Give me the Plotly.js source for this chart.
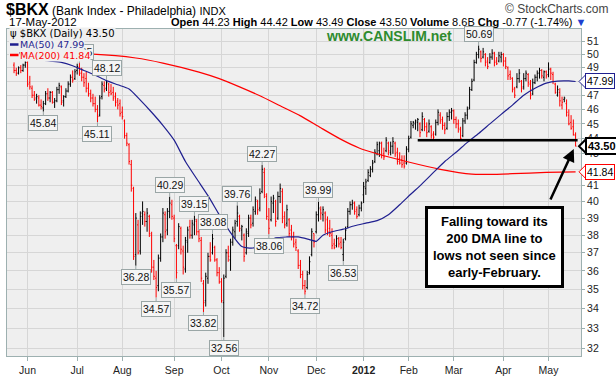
<!DOCTYPE html>
<html><head><meta charset="utf-8">
<script src="https://cdn.plot.ly/plotly-3.0.1.min.js"></script>
<style>html,body{margin:0;padding:0;background:#fff;}#chart{width:616px;height:379px;}</style>
</head><body><div id="chart"></div>
<script>
// ---- data (trading-day index; 0 = 1-Jun-2011) ----
const firstIdx = -6;
const opens = [
49.2,48.8,48.6,49.0,48.8,49.2,49.4,47.9,47.5,47.0,
46.8,46.8,46.3,46.1,46.4,47.1,46.8,47.2,46.5,46.6,
47.4,47.6,46.6,46.9,47.3,47.8,48.3,48.2,48.8,49.0,
48.6,48.3,48.2,47.5,47.1,46.8,46.4,46.0,45.6,46.9,
47.7,47.5,47.8,47.3,47.2,46.9,46.6,46.4,45.8,45.2,
44.2,43.6,42.3,40.8,36.9,38.6,37.1,39.3,39.2,38.8,
39.1,38.0,36.2,35.6,35.2,36.7,37.9,39.2,38.3,39.4,
39.8,39.0,37.4,37.4,38.4,37.1,36.1,37.6,38.5,38.0,
38.6,38.8,38.2,37.7,35.3,34.4,35.6,36.8,37.0,37.3,
36.6,35.9,35.4,34.3,35.7,37.0,36.6,37.6,38.2,38.8,
39.1,38.3,38.0,37.0,38.1,39.0,38.7,39.4,40.0,39.6,
40.6,41.8,40.3,38.9,38.9,39.9,40.0,39.0,40.3,40.6,
39.1,38.7,38.9,38.3,37.9,37.6,37.1,36.3,35.8,35.2,
35.1,35.9,36.9,38.1,38.2,39.2,39.5,39.2,39.3,38.9,
38.4,38.0,37.5,37.4,37.8,37.6,36.9,37.8,38.5,39.4,
39.8,39.9,39.5,39.2,39.6,40.4,40.8,41.3,41.6,42.0,
42.5,43.0,43.2,43.7,43.0,43.2,43.7,43.1,43.5,43.7,
43.1,42.7,42.6,42.4,42.4,43.3,44.1,44.9,45.0,45.1,
45.0,44.6,45.3,44.8,44.5,44.8,44.3,44.3,45.1,45.6,
45.3,44.9,44.7,45.5,45.8,45.9,45.3,45.0,44.6,44.2,
45.2,45.6,46.1,47.4,48.1,49.4,50.0,50.2,49.8,50.0,
49.5,49.4,49.8,50.1,49.5,49.5,49.8,50.0,49.5,49.0,
48.5,48.2,47.5,47.6,48.2,48.0,47.6,48.2,48.5,47.8,
47.1,47.9,48.3,48.6,48.8,48.3,48.7,48.5,48.9,48.5,
47.8,47.0,47.2,46.3,46.7,46.4,45.6,45.1,44.8,44.23];
const highs = [
49.4,49.0,49.1,49.2,49.3,49.6,49.5,48.4,47.7,47.3,
47.1,47.0,46.7,46.6,47.3,47.5,47.3,47.3,46.8,47.6,
47.9,47.7,47.0,47.5,48.0,48.5,48.8,48.9,49.3,49.35,
49.0,48.6,48.7,47.9,47.4,47.1,46.9,46.3,47.0,48.0,
48.0,48.12,47.9,47.8,47.6,47.2,46.8,46.7,46.2,45.3,
44.4,43.7,42.6,40.9,39.3,38.9,39.4,40.0,39.4,39.6,
39.2,38.2,36.6,36.0,36.9,38.1,39.6,39.4,39.6,40.29,
40.1,39.2,37.5,38.7,38.5,37.4,37.9,38.5,38.9,38.9,
39.15,38.95,38.4,37.9,35.5,35.9,37.0,37.6,38.08,37.4,
36.7,36.2,35.6,35.8,37.2,37.4,37.8,38.5,38.9,39.76,
39.2,38.6,38.1,38.4,39.2,39.2,39.7,40.3,40.1,40.8,
42.27,42.1,40.5,39.6,40.3,40.4,40.1,40.6,41.1,40.8,
39.4,39.8,39.0,38.6,38.2,37.8,37.2,36.6,36.0,35.5,
36.0,36.8,38.4,38.1,39.4,39.99,39.7,39.7,39.4,39.1,
38.9,38.4,37.8,38.0,37.9,37.9,37.8,38.5,39.6,40.0,
40.1,40.0,39.7,39.8,40.0,41.2,41.4,42.0,42.2,42.6,
43.3,43.8,43.8,43.8,43.4,44.1,43.8,43.8,44.1,43.8,
43.4,43.1,42.9,42.9,43.5,44.2,45.2,45.2,45.3,45.4,
45.1,45.8,45.4,45.1,45.3,44.9,44.5,45.3,46.0,45.8,
45.5,45.1,45.8,46.0,46.1,46.0,45.5,45.3,44.8,45.4,
45.8,46.2,47.6,48.2,49.6,50.2,50.69,50.3,50.5,50.1,
49.8,50.1,50.4,50.2,49.8,50.2,50.2,50.1,49.8,49.1,
48.8,48.3,47.6,48.6,48.9,48.1,48.6,48.8,48.6,48.1,
48.2,48.5,48.8,49.0,48.9,48.8,48.8,49.4,49.0,48.7,
47.9,47.7,47.5,46.9,46.9,46.7,46.0,45.6,45.3,44.42];
const lows = [
48.6,48.4,48.5,48.6,48.7,49.0,47.6,47.4,46.8,46.6,
46.4,46.2,46.0,45.84,46.3,46.6,46.5,46.4,46.1,46.5,
47.1,46.3,46.2,46.8,47.2,47.6,47.9,48.1,48.5,48.4,
48.0,47.6,47.2,46.9,46.5,46.2,45.8,45.11,45.5,46.7,
47.2,47.3,46.9,47.0,46.6,46.2,46.0,45.5,45.3,44.0,
43.5,42.3,40.6,36.6,36.28,36.9,36.9,38.6,38.5,38.2,
37.9,35.9,35.5,34.57,34.9,36.5,37.6,37.8,38.0,39.0,
38.9,37.6,35.57,37.2,36.9,35.8,35.9,37.0,37.8,37.8,
38.0,38.0,37.6,35.4,33.82,34.1,35.3,36.5,36.9,36.5,
35.7,35.3,34.3,32.56,35.6,36.5,36.0,37.4,37.8,38.5,
38.2,37.7,36.5,36.9,37.9,38.4,38.5,39.2,39.2,39.4,
40.5,40.2,38.9,38.06,38.8,39.3,38.5,38.9,39.9,38.7,
38.4,38.5,37.9,37.7,37.3,37.1,36.1,35.6,35.0,34.72,
35.0,35.8,36.8,37.3,38.1,38.8,38.9,38.8,38.1,38.0,
37.9,37.2,37.2,37.3,37.3,37.2,36.53,37.7,38.4,39.2,
39.5,39.2,38.96,39.1,39.4,39.9,40.4,41.2,41.5,41.8,
42.4,42.9,42.8,42.7,42.6,43.1,42.9,42.9,43.0,42.8,
42.3,42.3,42.1,42.05,42.3,43.1,44.0,44.7,44.6,44.5,
44.1,44.5,44.5,44.1,44.4,44.0,43.95,44.2,44.9,45.0,
44.6,44.3,44.6,45.2,45.3,45.0,44.7,44.4,43.85,44.1,
45.0,45.3,46.0,47.3,48.0,49.3,49.7,49.4,49.7,49.1,
48.9,49.3,49.6,49.1,49.2,49.4,49.4,49.1,48.9,48.1,
48.1,47.2,46.8,47.5,47.9,47.2,47.4,48.0,47.6,46.7,
47.0,47.8,48.0,48.2,48.2,48.0,48.2,48.3,48.1,47.8,
47.1,46.9,46.2,46.0,46.5,45.5,44.9,44.6,44.2,43.49];
const closes = [
48.8,48.6,49.0,48.8,49.2,49.4,47.8,47.6,47.0,46.7,
46.9,46.3,46.2,46.4,47.1,46.8,47.2,46.5,46.6,47.4,
47.7,46.5,46.9,47.3,47.8,48.3,48.1,48.7,49.1,48.6,
48.3,47.9,47.5,47.1,46.8,46.4,46.0,45.5,46.8,47.8,
47.4,47.9,47.2,47.1,46.8,46.5,46.3,45.7,45.5,44.2,
43.7,42.5,41.0,36.8,39.0,37.0,39.1,39.4,38.8,39.3,
38.1,36.2,35.7,35.1,36.7,37.9,39.3,38.2,39.4,39.9,
39.1,37.8,35.9,38.5,37.2,36.2,37.7,38.3,38.0,38.7,
38.9,38.2,37.8,35.6,34.3,35.7,36.8,36.6,37.8,36.6,
35.9,35.4,34.4,35.6,37.0,36.8,37.6,38.3,38.7,39.3,
38.4,38.5,36.8,38.2,39.0,38.6,39.5,40.1,39.5,40.5,
42.0,40.4,39.1,38.4,40.0,40.2,38.8,40.3,40.8,39.0,
38.6,39.5,38.1,37.9,37.5,37.3,36.3,35.8,35.2,34.9,
35.8,36.5,38.2,37.6,39.2,39.6,39.3,39.5,38.3,38.2,
38.1,37.4,37.3,37.8,37.5,37.3,37.6,38.3,39.4,39.8,
39.9,39.4,39.1,39.6,39.9,40.9,41.2,41.8,42.0,42.4,
43.1,43.6,43.7,42.9,42.8,43.9,43.2,43.5,43.8,43.0,
42.5,42.4,42.3,42.2,43.3,44.0,45.0,45.1,45.2,45.3,
44.4,45.5,44.8,44.4,45.0,44.2,44.1,45.1,45.8,45.2,
44.9,44.6,45.5,45.8,45.9,45.3,45.0,44.7,44.0,45.2,
45.6,46.0,47.4,48.0,49.4,50.0,50.4,49.7,50.2,49.4,
49.1,49.8,50.1,49.4,49.3,49.9,50.0,49.5,49.1,48.4,
48.3,47.4,47.0,48.2,48.6,47.5,48.2,48.6,47.9,47.0,
47.9,48.3,48.6,48.8,48.4,48.7,48.4,48.9,48.6,48.0,
47.2,47.4,46.6,46.5,46.8,45.8,45.0,44.7,44.27,43.50];

const monthTickIdx  = [0,22,42,65,86,107,128,149,169,189,211,231];
const monthTickText = ['Jun','Jul','Aug','Sep','Oct','Nov','Dec','<b>2012</b>','Feb','Mar','Apr','May'];
const yearStartIdx = 149;

const ma50Idx = [-6,0,5,10,15,20,25,30,35,40,45,50,55,60,65,70,75,80,85,90,95,100,105,110,115,120,125,128,131,135,140,145,150,155,160,165,170,175,180,185,190,195,200,205,210,215,220,225,230,235,240,243];
const ma50Val = [50.3,49.9,49.6,49.5,49.4,49.15,48.8,48.45,48.05,47.75,47.45,46.65,45.8,44.9,43.9,42.5,41.4,40.35,39.2,38.15,37.35,37.27,37.55,37.85,37.9,37.9,37.75,37.65,38.0,38.2,38.35,38.55,38.7,38.85,39.2,39.8,40.45,41.1,41.8,42.5,43.1,43.75,44.35,45.0,45.65,46.3,47.0,47.5,47.87,48.02,48.03,47.99];
const ma200Idx = [-6,10,29,48,60,76,85,94,103,112,121,130,139,147,155,168,183,197,205,215,230,243];
const ma200Val = [50.1,50.06,50.02,49.73,49.35,48.68,48.2,47.6,46.96,46.25,45.55,44.73,43.95,43.38,43.0,42.5,42.0,41.69,41.68,41.72,41.8,41.84];

const priceTicks = [32,33,34,35,36,37,38,39,40,41,42,43,44,45,46,47,48,49,50,51];
const highLabelIdx = [23,35,63,74,82,93,104,129,200];
const lowLabelIdx  = [7,31,48,57,66,78,87,107,123,140];
const supportLevel = 43.9;
const supportStartIdx = 173;
const volumeText = '8.6B';
const noteLines = ['Falling toward its','200 DMA line to','lows not seen since','early-February.'];

// ---- geometry helpers (layout only) ----
const W = 616, H = 379, ML = 7, MR = 35, MT = 29, MB = 23;
const PW = W - ML - MR, PH = H - MT - MB;
const yLo = 31.633, yHi = 51.97;
const r0 = Math.log10(yLo), r1 = Math.log10(yHi);
const yPaper = v => (Math.log10(v) - r0) / (r1 - r0);
const pxX = px => (px - ML) / PW;
const pxY = py => (H - MB - py) / PH;
const SANS = 'Liberation Sans, Arial, sans-serif';

// ---- traces ----
const N = closes.length;
const xIdx = closes.map((_, k) => firstIdx + k);
const up = {x:[],o:[],h:[],l:[],c:[]}, dn = {x:[],o:[],h:[],l:[],c:[]};
for (let k = 0; k < N; k++) {
  const prev = k > 0 ? closes[k-1] : opens[k];
  const g = closes[k] >= prev ? up : dn;
  g.x.push(xIdx[k]); g.o.push(opens[k]); g.h.push(highs[k]); g.l.push(lows[k]); g.c.push(closes[k]);
}
function ohlc(g, color) {
  return {type:'ohlc', x:g.x, open:g.o, high:g.h, low:g.l, close:g.c,
    increasing:{line:{color:color, width:1}}, decreasing:{line:{color:color, width:1}},
    tickwidth:0.42, hoverinfo:'skip', showlegend:false};
}
const MA50C = '#1f1f8f', MA200C = '#ff0000';
const data = [
  ohlc(up, '#000000'), ohlc(dn, '#ff0000'),
  {type:'scatter', mode:'lines', x:ma200Idx, y:ma200Val, line:{color:MA200C, width:1.2, shape:'spline', smoothing:0.6}, hoverinfo:'skip', showlegend:false},
  {type:'scatter', mode:'lines', x:ma50Idx, y:ma50Val, line:{color:MA50C, width:1.2, shape:'spline', smoothing:0.6}, hoverinfo:'skip', showlegend:false}
];

// ---- annotations ----
const ann = [];
const shapes = [];
const lblStyle = {showarrow:true, arrowhead:0, arrowwidth:1, arrowcolor:'#9aa6a6', ax:0,
  bgcolor:'#f5f5f5', bordercolor:'#9aa6a6', borderwidth:1, borderpad:1,
  font:{family:SANS, size:10.5, color:'#111'}};
highLabelIdx.forEach(i => { const v = highs[i - firstIdx];
  ann.push(Object.assign({}, lblStyle, {x:i, y:Math.log10(v), xref:'x', yref:'y', ay:-11.5, text:v.toFixed(2)})); });
lowLabelIdx.forEach(i => { const v = lows[i - firstIdx];
  ann.push(Object.assign({}, lblStyle, {x:i, y:Math.log10(v), xref:'x', yref:'y', ay:11.5, text:v.toFixed(2)})); });

const last = N - 1;
const legend = [
  {py:33.5, text:'ψ $BKX (Daily) ' + closes[last].toFixed(2), color:'#000', dash:false, x0:9, size:10},
  {py:44.5, text:'MA(50) ' + ma50Val[ma50Val.length-1].toFixed(2), color:MA50C, dash:true, x0:19, size:9.5},
  {py:55, text:'MA(200) ' + ma200Val[ma200Val.length-1].toFixed(2), color:MA200C, dash:true, x0:19, size:9.5}
];
legend.forEach(l => {
  ann.push({xref:'paper', yref:'paper', x:pxX(l.x0), y:pxY(l.py), xanchor:'left', yanchor:'middle',
    text:l.text, showarrow:false, bgcolor:'#efefef', borderpad:0,
    font:{family:'DejaVu Sans, sans-serif', size:l.size, color:l.color}});
  if (l.dash) {
    shapes.push({type:'rect', xref:'paper', yref:'paper', x0:pxX(9), x1:pxX(19), y0:pxY(l.py - 6), y1:pxY(l.py + 6),
      fillcolor:'#efefef', line:{width:0}, layer:'above'});
    shapes.push({type:'line', xref:'paper', yref:'paper', x0:pxX(10), x1:pxX(18.5), y0:pxY(l.py), y1:pxY(l.py),
      line:{color:l.color, width:2.5}, layer:'above'});
  }
});

ann.push({xref:'paper', yref:'paper', x:pxX(389), y:pxY(36), xanchor:'center', yanchor:'middle', showarrow:false,
  text:'<b>www.CANSLIM.net</b>', font:{family:SANS, size:14, color:'#2e8b2e'}});

// header
const chg = closes[last] - closes[last-1];
const pct = chg / closes[last-1] * 100;
ann.push({xref:'paper', yref:'paper', x:pxX(4), y:pxY(9), xanchor:'left', yanchor:'middle', showarrow:false,
  text:'<b><span style="font-size:16px">$BKX</span></b> (Bank Index - Philadelphia) <span style="font-size:11px">INDX</span>',
  font:{family:SANS, size:12, color:'#000'}});
ann.push({xref:'paper', yref:'paper', x:pxX(611), y:pxY(9), xanchor:'right', yanchor:'middle', showarrow:false,
  text:'© StockCharts.com', font:{family:SANS, size:12, color:'#444'}});
ann.push({xref:'paper', yref:'paper', x:pxX(7), y:pxY(22.5), xanchor:'left', yanchor:'middle', showarrow:false,
  text:'17-May-2012', font:{family:SANS, size:11.5, color:'#000'}});
ann.push({xref:'paper', yref:'paper', x:pxX(588), y:pxY(22.5), xanchor:'right', yanchor:'middle', showarrow:false,
  text:'<b>Open</b> ' + opens[last].toFixed(2) + ' <b>High</b> ' + highs[last].toFixed(2) + ' <b>Low</b> ' + lows[last].toFixed(2) +
       ' <b>Close</b> ' + closes[last].toFixed(2) + ' <b>Volume</b> ' + volumeText + ' <b>Chg</b> ' + chg.toFixed(2) +
       ' (' + pct.toFixed(2) + '%) <span style="color:#2040d0">▼</span>',
  font:{family:SANS, size:11, color:'#000'}});

// right-side value tags
const tags = [
  {v:ma50Val[ma50Val.length-1], color:MA50C, bold:false, bw:1},
  {v:closes[last], color:'#000', bold:true, bw:2},
  {v:ma200Val[ma200Val.length-1], color:MA200C, bold:false, bw:1}
];
tags.forEach(t => {
  const yp = yPaper(t.v);
  shapes.push({type:'path', xref:'paper', yref:'paper', layer:'above',
    path:'M ' + pxX(579) + ' ' + yp + ' L ' + pxX(586) + ' ' + (yp + 7/PH) + ' L ' + pxX(586) + ' ' + (yp - 7/PH) + ' Z',
    fillcolor:'#fff', line:{color:t.color, width:t.bw}});
  ann.push({xref:'paper', yref:'y', x:pxX(585), y:Math.log10(t.v), xanchor:'left', yanchor:'middle', showarrow:false,
    text:t.bold ? '<b>' + t.v.toFixed(2) + '</b>' : t.v.toFixed(2),
    bgcolor:'#fff', bordercolor:t.color, borderwidth:t.bw, borderpad:1,
    font:{family:SANS, size:t.bold ? 11 : 10.5, color:'#000'}});
});

// note box + arrow
ann.push({xref:'paper', yref:'paper', x:pxX(494.5), y:pxY(246.5), xanchor:'center', yanchor:'middle', showarrow:false,
  text:'<b>' + noteLines.join('<br>') + '</b>', align:'center',
  bgcolor:'#fff', bordercolor:'#000', borderwidth:3, borderpad:5,
  font:{family:SANS, size:13, color:'#000'}});
ann.push({xref:'x', yref:'y', x:xIdx[last] - 0.8, y:Math.log10(lows[last] * 0.996), text:'', showarrow:true,
  ax:-24, ay:52, arrowhead:2, arrowsize:1, arrowwidth:2.5, arrowcolor:'#000', standoff:0});

// shapes: support line and year separator
shapes.push({type:'line', xref:'x', yref:'paper', x0:supportStartIdx, x1:xIdx[last] + 0.9,
  y0:yPaper(supportLevel), y1:yPaper(supportLevel), line:{color:'#000', width:2.5}, layer:'above'});
shapes.push({type:'line', xref:'x', yref:'paper', x0:yearStartIdx, x1:yearStartIdx, y0:0, y1:1,
  line:{color:'#b0b8b8', width:1}, layer:'below'});

const axisLine = '#9db0b0';
const layout = {
  width:W, height:H, margin:{l:ML, r:MR, t:MT, b:MB, pad:0},
  paper_bgcolor:'#ffffff', plot_bgcolor:'#efefef', showlegend:false,
  font:{family:SANS, size:10.5, color:'#222'},
  xaxis:{range:[-9.12, 245.4], tickmode:'array', tickvals:monthTickIdx, ticktext:monthTickText,
    showgrid:true, gridcolor:'#d6d6d6', gridwidth:1, ticks:'outside', ticklen:4, tickcolor:axisLine,
    showline:true, mirror:true, linecolor:axisLine, linewidth:1, zeroline:false,
    rangeslider:{visible:false}, fixedrange:true, tickfont:{size:10.5, color:'#222'}},
  yaxis:{type:'log', range:[r0, r1], side:'right', tickmode:'array', tickvals:priceTicks, ticktext:priceTicks.map(String),
    showgrid:true, gridcolor:'#d6d6d6', gridwidth:1, ticks:'outside', ticklen:3, tickcolor:axisLine,
    showline:true, mirror:true, linecolor:axisLine, linewidth:1, zeroline:false, fixedrange:true,
    tickfont:{size:10.5, color:'#222'}},
  annotations:ann, shapes:shapes
};
Plotly.newPlot('chart', data, layout, {displayModeBar:false, staticPlot:true});
</script></body></html>
